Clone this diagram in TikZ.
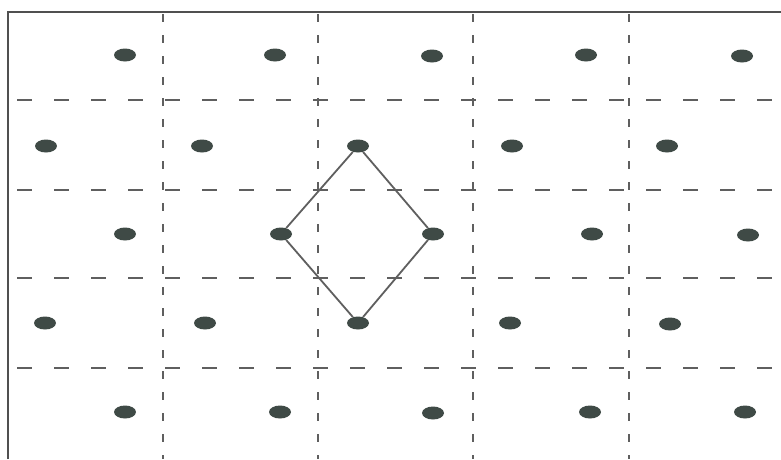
\documentclass[tikz,border=0pt]{standalone}
\usetikzlibrary{shapes.geometric}
\definecolor{dotc}{HTML}{3F4A46}
\definecolor{gridc}{HTML}{5F5F5F}
\definecolor{framec}{HTML}{505050}
\begin{document}
\begin{tikzpicture}[x=1pt,y=-1pt,
  dotnode/.style={ellipse,fill=dotc,draw=none,minimum width=22pt,minimum height=13pt,inner sep=0pt},
  hgrid/.style={draw=gridc,line width=1.6pt,dash pattern=on 15pt off 22pt},
  vgrid/.style={draw=gridc,line width=1.8pt,dash pattern=on 8pt off 13pt},
  frameline/.style={draw=framec,line width=2.2pt},
  link/.style={draw=gridc,line width=1.8pt}]
\useasboundingbox[fill=white] (0,0) rectangle (781,459);
% frame
\draw[frameline] (8,459) -- (8,12) -- (781,12);
% horizontal dashed lines
\foreach \y in {100,190,278,368} \draw[hgrid] (17,\y) -- (781,\y);
% vertical dashed lines
\foreach \x in {163,318,473,629} \draw[vgrid] (\x,14) -- (\x,459);
% dots
\node[dotnode] (a1) at (125,55) {};
\node[dotnode] (a2) at (275,55) {};
\node[dotnode] (a3) at (432,56) {};
\node[dotnode] (a4) at (586,55) {};
\node[dotnode] (a5) at (742,56) {};
\node[dotnode] (b1) at (46,146) {};
\node[dotnode] (b2) at (202,146) {};
\node[dotnode] (b3) at (358,146) {};
\node[dotnode] (b4) at (512,146) {};
\node[dotnode] (b5) at (667,146) {};
\node[dotnode] (c1) at (125,234) {};
\node[dotnode] (c2) at (281,234) {};
\node[dotnode] (c3) at (433,234) {};
\node[dotnode] (c4) at (592,234) {};
\node[dotnode] (c5) at (748,235) {};
\node[dotnode] (d1) at (45,323) {};
\node[dotnode] (d2) at (205,323) {};
\node[dotnode] (d3) at (358,323) {};
\node[dotnode] (d4) at (510,323) {};
\node[dotnode] (d5) at (670,324) {};
\node[dotnode] (e1) at (125,412) {};
\node[dotnode] (e2) at (280,412) {};
\node[dotnode] (e3) at (433,413) {};
\node[dotnode] (e4) at (590,412) {};
\node[dotnode] (e5) at (745,412) {};
% diamond
\draw[link] (b3) -- (c3) -- (d3) -- (c2) -- (b3);
\end{tikzpicture}
\end{document}
